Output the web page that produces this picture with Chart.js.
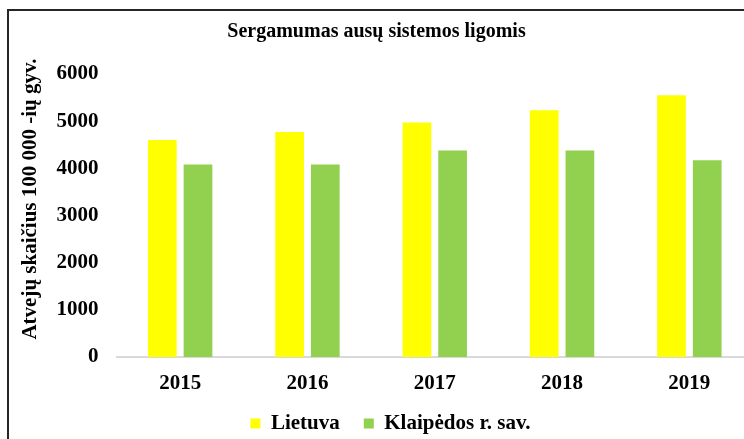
<!DOCTYPE html>
<html lang="lt">
<head>
<meta charset="utf-8">
<title>Sergamumas ausų sistemos ligomis</title>
<script src="https://cdn.jsdelivr.net/npm/chart.js@4/dist/chart.umd.min.js"></script>
<style>
    html, body {
        margin: 0;
        padding: 0;
        width: 744px;
        height: 439px;
        overflow: hidden;
        background: #ffffff;
    }
    #frame {
        position: absolute;
        left: 7px;
        top: 9px;
        width: 800px;
        height: 500px;
        border: 2px solid #262626;
        box-sizing: border-box;
    }
    #wrap {
        position: absolute;
        left: 0;
        top: 0;
        width: 770px;
        height: 444px;
    }
</style>
</head>
<body>
<div id="frame"></div>
<div id="wrap"><canvas id="earChart" width="770" height="444"></canvas></div>

<script>
// Cases per 100 000 population
const years = ['2015', '2016', '2017', '2018', '2019'];
const lietuva = [4600, 4770, 4970, 5230, 5550];
const klaipedosRSav = [4080, 4080, 4380, 4380, 4170];
const yTicks = [0, 1000, 2000, 3000, 4000, 5000, 6000];

const FONT = "'Liberation Serif', 'Times New Roman', serif";

/**
 * Rotated y axis caption, placed against the plot area
 */
const yCaption = {
    id: 'yCaption',
    afterDraw(chart, args, opts) {
        const ctx = chart.ctx;
        const area = chart.chartArea;
        ctx.save();
        ctx.translate(area.left + opts.dx, area.top + opts.dy);
        ctx.rotate(-Math.PI / 2);
        ctx.font = 'bold 21px ' + FONT;
        ctx.fillStyle = '#000000';
        ctx.textAlign = 'center';
        ctx.textBaseline = 'middle';
        ctx.fillText(opts.text, 0, 0);
        ctx.restore();
    }
};

/**
 * Nudge the legend row to the right of the title centre
 */
const legendShift = {
    id: 'legendShift',
    afterLayout(chart, args, opts) {
        if (!chart.legend) return;
        chart.legend.left += opts.dx;
        chart.legend.right += opts.dx;
    }
};

const ctx = document.getElementById('earChart').getContext('2d');
new Chart(ctx, {
    type: 'bar',
    data: {
        labels: years,
        datasets: [{
            label: 'Lietuva',
            data: lietuva,
            backgroundColor: '#ffff00',
            borderWidth: 0
        }, {
            label: 'Klaipėdos r. sav.',
            data: klaipedosRSav,
            backgroundColor: '#92d050',
            borderWidth: 0
        }]
    },
    options: {
        responsive: false,
        animation: false,
        devicePixelRatio: 1,
        categoryPercentage: 0.561,
        barPercentage: 0.804,
        layout: {
            padding: { left: 0, right: 17, top: 0, bottom: 0 }
        },
        scales: {
            x: {
                grid: { display: false, drawTicks: false },
                border: { display: true, color: '#d9d9d9', width: 2 },
                ticks: {
                    color: '#000000',
                    padding: 14,
                    font: { family: FONT, size: 21, weight: 'bold' }
                },
                afterFit: function(scale) { scale.height = 32; }
            },
            y: {
                min: 0,
                max: 6000,
                afterBuildTicks: function(scale) {
                    scale.ticks = yTicks.map(v => ({ value: v }));
                },
                grid: { display: false, drawTicks: false },
                border: { display: false },
                ticks: {
                    color: '#000000',
                    padding: 18,
                    font: { family: FONT, size: 21, weight: 'bold' },
                    callback: function(value) { return String(value); }
                },
                afterFit: function(scale) { scale.width = 116.5; }
            }
        },
        plugins: {
            title: {
                display: true,
                text: 'Sergamumas ausų sistemos ligomis',
                color: '#000000',
                font: { family: FONT, size: 20, weight: 'bold' },
                padding: { top: 20, bottom: 30 }
            },
            legend: {
                position: 'bottom',
                labels: {
                    color: '#000000',
                    boxWidth: 10,
                    boxHeight: 10,
                    padding: 24,
                    font: { family: FONT, size: 21, weight: 'bold' }
                }
            },
            tooltip: { enabled: false },
            yCaption: { text: 'Atvejų skaičius 100 000 -ių gyv.', dx: -85.5, dy: 125 },
            legendShift: { dx: 14 }
        }
    },
    plugins: [yCaption, legendShift]
});
</script>
</body>
</html>
